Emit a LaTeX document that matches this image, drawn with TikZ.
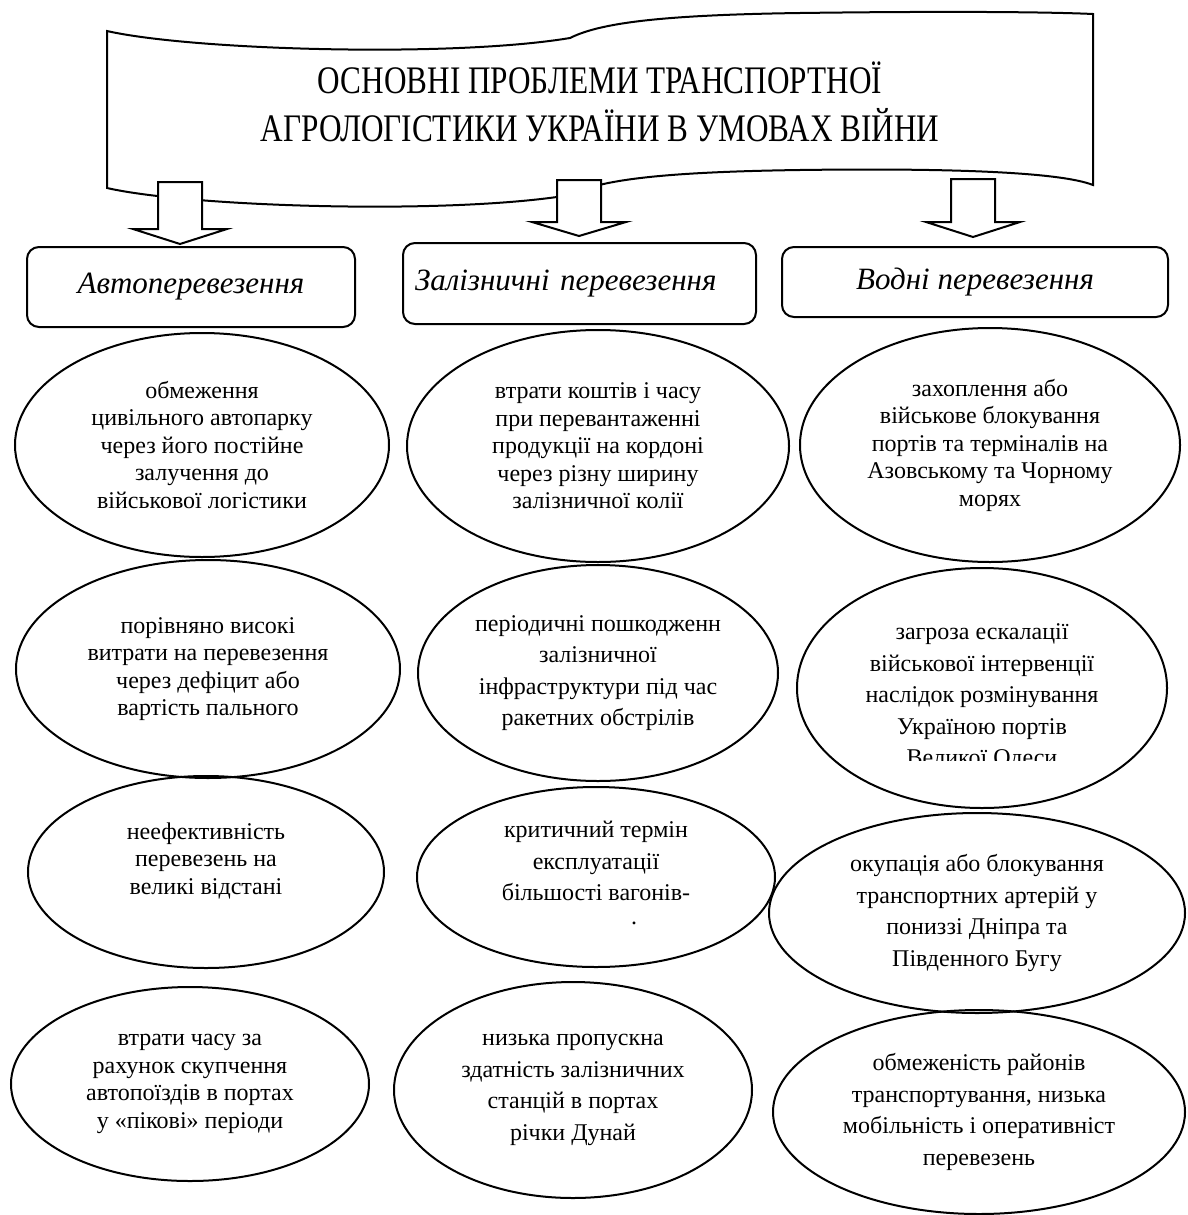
\documentclass[tikz,border=0pt]{standalone}
\usepackage{fontspec}
\setmainfont{Liberation Serif}
\newfontfamily\titlefont[FakeStretch=0.8]{Liberation Serif}
\usetikzlibrary{shapes.geometric}

% block arrow pointing down: x, top of shaft, base of head, tip
\newcommand{\downblock}[4]{%
  \draw[fat] ({#1-22},#2) -- ({#1-22},#3) -- ({#1-47},#3) -- (#1,#4)
    -- ({#1+47},#3) -- ({#1+22},#3) -- ({#1+22},#2) -- cycle;}

\begin{document}
\begin{tikzpicture}[x=0.5pt, y=-0.5pt, line width=1pt,
    every node/.style={font=\fontsize{12}{13.75}\selectfont},
    oval/.style={draw, ellipse, inner sep=0pt, align=center},
    loose/.style={font=\fontsize{12}{15.75}\selectfont},
    kind/.style={draw, rounded corners=6pt, inner sep=0pt, align=center, font=\fontsize{15.5}{18}\selectfont\itshape},
    fat/.style={draw, fill=white}]
    \useasboundingbox (0,0) rectangle (1188,1215);

    % banner
    \draw[fill=white] (107,31) .. controls (190,50) and (450,58) .. (570,38)
        .. controls (600,23) and (660,15) .. (800,13)
        .. controls (950,11) and (1050,12) .. (1093,14)
        -- (1093,185)
        .. controls (1060,172) and (950,168) .. (800,170)
        .. controls (660,172) and (600,180) .. (570,195)
        .. controls (450,215) and (190,207) .. (107,188) -- cycle;
    \node[font={\titlefont\fontsize{19.5}{24}\selectfont}, align=center] (title) at (600,102)
        {ОСНОВНІ ПРОБЛЕМИ ТРАНСПОРТНОЇ\\АГРОЛОГІСТИКИ УКРАЇНИ В УМОВАХ ВІЙНИ};

    \downblock{180}{182}{229}{244}
    \downblock{579}{180}{222}{236}
    \downblock{973}{179}{222}{237}

    % kinds of transport
    \node[kind, minimum width=164pt, minimum height=40pt] (auto) at (191,287) {Автоперевезення};
    \node[kind, minimum width=176.5pt, minimum height=40.5pt, text width=164.5pt, align=left, inner xsep=6pt] (rail) at (579.5,283.5) {Залізничні перевезення};
    \node[kind, minimum width=193pt, minimum height=35pt] (water) at (975,282) {Водні перевезення};

    % road
    \node[oval, minimum width=187pt, minimum height=112pt] (auto1) at (202,445) {обмеження\\цивільного автопарку\\через його постійне\\залучення до\\військової логістики};
    \node[oval, minimum width=192pt, minimum height=109pt] (auto2) at (208,669) {порівняно високі\\витрати на перевезення\\через дефіцит або\\вартість пального};
    \node[oval, minimum width=178pt, minimum height=96pt] (auto3) at (206,872) {неефективність\\перевезень на\\великі відстані\\\mbox{}};
    \node[oval, minimum width=179pt, minimum height=97pt] (auto4) at (190,1084) {втрати часу за\\рахунок скупчення\\автопоїздів в портах\\у «пікові» періоди};

    % rail
    \node[oval, minimum width=191pt, minimum height=116pt] (rail1) at (598,446) {втрати коштів і часу\\при перевантаженні\\продукції на кордоні\\через різну ширину\\залізничної колії};
    \node[oval, loose, minimum width=180pt, minimum height=108pt] (rail2) at (598,673) {періодичні пошкодженн\\залізничної\\інфраструктури під час\\ракетних обстрілів};
    \node[oval, loose, minimum width=179pt, minimum height=90pt] (rail3) at (596,877) {критичний термін\\експлуатації\\більшості вагонів-\\\hspace*{38pt}\raisebox{4pt}{.}};
    \node[oval, loose, minimum width=179pt, minimum height=108pt] (rail4) at (573,1090) {низька пропускна\\здатність залізничних\\станцій в портах\\річки Дунай};

    % water
    \node[oval, minimum width=190pt, minimum height=117pt] (water1) at (990,445) {захоплення або\\військове блокування\\портів та терміналів на\\Азовському та Чорному\\морях};
    \node[oval, minimum width=185pt, minimum height=120pt] (water2) at (982,688) {};
    \begin{scope}
        \clip (800,560) rectangle (1165,760);
        \node[loose, align=center] (water2txt) at ([yshift=-4.5pt]water2.center) {загроза ескалації\\військової інтервенції\\наслідок розмінування\\Україною портів\\Великої Одеси};
    \end{scope}
    \node[oval, loose, minimum width=208pt, minimum height=100pt] (water3) at (977,913) {окупація або блокування\\транспортних артерій у\\пониззі Дніпра та\\Південного Бугу};
    \node[oval, loose, minimum width=206pt, minimum height=102pt] (water4) at (979,1112) {обмеженість районів\\транспортування, низька\\мобільність і оперативніст\\перевезень};
\end{tikzpicture}
\end{document}
